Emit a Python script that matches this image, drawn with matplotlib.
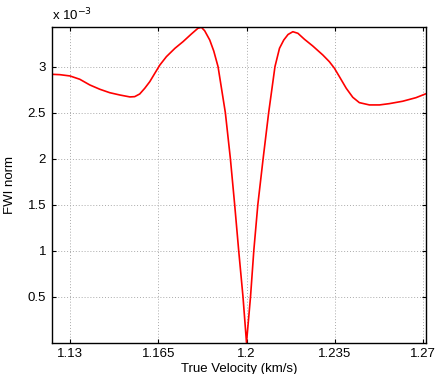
import numpy as np
import matplotlib
matplotlib.use("Agg")
import matplotlib.pyplot as plt

plt.rcParams.update({"font.family": ["Liberation Sans", "DejaVu Sans"], "font.size": 9.5})

# values (y in units of 1e-3)
velocity = [1.1226, 1.1259, 1.1299, 1.1338, 1.1378, 1.1418, 1.1457, 1.1497,
            1.1537, 1.1556, 1.1576, 1.1596, 1.1616, 1.1636, 1.1656, 1.1682,
            1.1716, 1.1748, 1.1781, 1.1807, 1.1821, 1.1834, 1.1854, 1.1870,
            1.1887, 1.1916, 1.1936, 1.1953, 1.1969, 1.1986, 1.2000,
            1.2016, 1.2029, 1.2045, 1.2066, 1.2088, 1.2113, 1.2131, 1.2148,
            1.2165, 1.2184, 1.2204, 1.2230, 1.2263, 1.2303, 1.2329,
            1.2349, 1.2369, 1.2396, 1.2422, 1.2448, 1.2488, 1.2528, 1.2567,
            1.2620, 1.2673, 1.2710]
fwi_norm = [2.917, 2.913, 2.899, 2.863, 2.801, 2.754, 2.717, 2.692,
            2.671, 2.674, 2.703, 2.765, 2.837, 2.928, 3.018, 3.109,
            3.200, 3.272, 3.355, 3.417, 3.428, 3.390, 3.290, 3.170,
            3.000, 2.500, 2.000, 1.500, 1.000, 0.500, 0.000,
            0.500, 1.000, 1.500, 2.000, 2.500, 3.000, 3.200, 3.290,
            3.350, 3.380, 3.363, 3.298, 3.225, 3.127, 3.054,
            2.983, 2.891, 2.765, 2.667, 2.609, 2.584, 2.584, 2.598,
            2.624, 2.663, 2.703]

xticks = [1.13, 1.165, 1.2, 1.235, 1.27]
xticklabels = ["1.13", "1.165", "1.2", "1.235", "1.27"]
yticks = [0.5, 1, 1.5, 2, 2.5, 3]
yticklabels = ["0.5", "1", "1.5", "2", "2.5", "3"]

fig = plt.figure(figsize=(4.37, 3.74), dpi=100)
ax = fig.add_axes([0.118, 0.084, 0.857, 0.843])

ax.plot(velocity, fwi_norm, color="red", lw=1.2)

ax.set_xlim(1.1226, 1.2713)
ax.set_ylim(0, 3.428)
ax.set_xticks(xticks)
ax.set_xticklabels(xticklabels)
ax.set_yticks(yticks)
ax.set_yticklabels(yticklabels)
ax.grid(True, linestyle=(0, (1, 2)), color="#aaaaaa", lw=0.7)
ax.tick_params(direction="in", top=True, right=True, length=3, width=0.8, pad=4)
for s in ax.spines.values():
    s.set_linewidth(1.0)

ax.set_xlabel("True Velocity (km/s)", labelpad=2)
ax.set_ylabel("FWI norm", labelpad=8)
ax.text(0.0, 1.012, r"x 10$^{-3}$", transform=ax.transAxes, ha="left", va="bottom")

fig.savefig("out.png", dpi=100)
